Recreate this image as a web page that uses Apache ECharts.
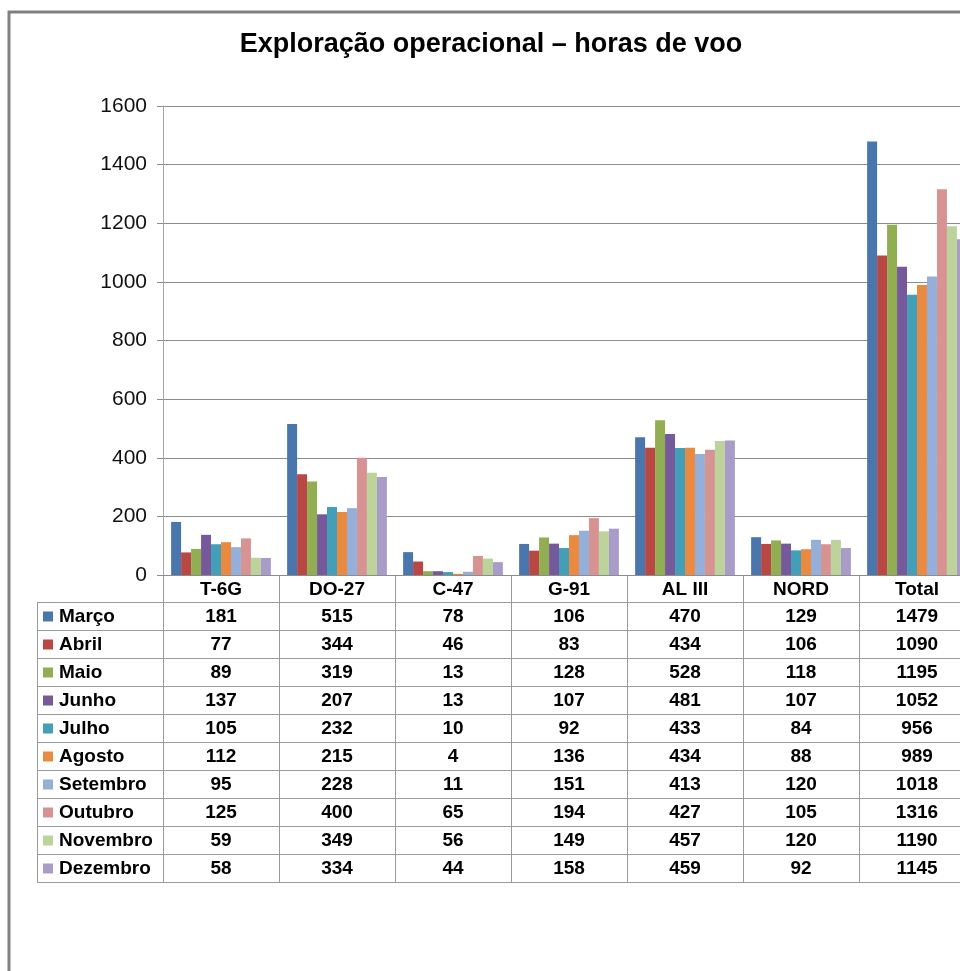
<!DOCTYPE html>
<html><head><meta charset="utf-8">
<script src="https://cdn.jsdelivr.net/npm/echarts@6/dist/echarts.min.js"></script>
<style>html,body{margin:0;padding:0;background:#fff;overflow:hidden}#c{width:960px;height:971px}</style>
</head><body><div id="c"></div>
<script>
const titleText = 'Exploração operacional – horas de voo';
const categories = ['T-6G', 'DO-27', 'C-47', 'G-91', 'AL III', 'NORD', 'Total'];
const months = ['Março', 'Abril', 'Maio', 'Junho', 'Julho', 'Agosto', 'Setembro', 'Outubro', 'Novembro', 'Dezembro'];
const marco    = [181, 515, 78, 106, 470, 129, 1479];
const abril    = [77, 344, 46, 83, 434, 106, 1090];
const maio     = [89, 319, 13, 128, 528, 118, 1195];
const junho    = [137, 207, 13, 107, 481, 107, 1052];
const julho    = [105, 232, 10, 92, 433, 84, 956];
const agosto   = [112, 215, 4, 136, 434, 88, 989];
const setembro = [95, 228, 11, 151, 413, 120, 1018];
const outubro  = [125, 400, 65, 194, 427, 105, 1316];
const novembro = [59, 349, 56, 149, 457, 120, 1190];
const dezembro = [58, 334, 44, 158, 459, 92, 1145];
const seriesValues = [marco, abril, maio, junho, julho, agosto, setembro, outubro, novembro, dezembro];
const colors = ['#4A76AE', '#B94845', '#91AF52', '#76599A', '#439FB8', '#E98A40', '#93AFDA', '#D69391', '#BCD39B', '#A99CC8'];
const yMin = 0, yMax = 1600, yInterval = 200;

const FONT = '"Liberation Sans", Arial, sans-serif';
const chart = echarts.init(document.getElementById('c'), null, {renderer: 'canvas'});

const series = months.map((m, i) => ({
  name: m,
  type: 'bar',
  data: seriesValues[i],
  itemStyle: {color: colors[i]},
  barGap: '0%',
  barCategoryGap: '14%',
  animation: false
}));

const GRID = {left: 163, top: 106, width: 812, height: 469, outerBoundsMode: 'none', containLabel: false};
chart.setOption({
  animation: false,
  backgroundColor: '#fff',
  grid: GRID,
  xAxis: {
    type: 'category',
    data: categories,
    axisLine: {show: true, lineStyle: {color: '#8c8c8c', width: 1}},
    axisTick: {show: false},
    axisLabel: {fontFamily: FONT, fontWeight: 'bold', fontSize: 19, color: '#000', margin: 5, interval: 0}
  },
  yAxis: {
    type: 'value',
    min: yMin, max: yMax, interval: yInterval,
    axisLine: {show: true, lineStyle: {color: '#a6a6a6', width: 1}},
    axisTick: {show: true, length: 6, lineStyle: {color: '#8c8c8c'}},
    axisLabel: {fontFamily: FONT, fontSize: 21, color: '#111', margin: 16, formatter: v => String(v)},
    splitLine: {show: true, lineStyle: {color: '#8c8c8c', width: 1}}
  },
  series: series
});

// Build data table from the arrays
const tableTop = 575, headerH = 27, rowH = 28;
const firstRowTop = tableTop + headerH;
const tableBottom = firstRowTop + rowH * months.length;
const legendLeft = 37;
const lineColor = '#9a9a9a';
const g = [];
// outer frame
g.push({type: 'rect', z: 0, shape: {x: 9, y: 12, width: 1100, height: 1100},
  style: {fill: null, stroke: '#808080', lineWidth: 3}});
// title
g.push({type: 'text', x: 491, y: 45, style: {text: titleText, font: 'bold 27px ' + FONT,
  fill: '#000', textAlign: 'center', textVerticalAlign: 'middle'}});

const centers = categories.map((c, i) => chart.convertToPixel({xAxisIndex: 0}, i));
const band = centers.length > 1 ? centers[1] - centers[0] : GRID.width;
// vertical lines
g.push({type: 'line', shape: {x1: GRID.left + 0.5, y1: tableTop, x2: GRID.left + 0.5, y2: tableBottom}, style: {stroke: lineColor, lineWidth: 1}});
g.push({type: 'line', shape: {x1: legendLeft + 0.5, y1: firstRowTop, x2: legendLeft + 0.5, y2: tableBottom}, style: {stroke: lineColor, lineWidth: 1}});
centers.forEach((cx, i) => {
  const bx = Math.round(cx + band / 2) + 0.5;
  g.push({type: 'line', shape: {x1: bx, y1: tableTop, x2: bx, y2: tableBottom}, style: {stroke: lineColor, lineWidth: 1}});
});
// horizontal lines
for (let r = 0; r <= months.length; r++) {
  const y = firstRowTop + r * rowH + 0.5;
  g.push({type: 'line', shape: {x1: legendLeft, y1: y, x2: 1100, y2: y}, style: {stroke: lineColor, lineWidth: 1}});
}
// rows
months.forEach((m, r) => {
  const cy = firstRowTop + r * rowH + rowH / 2 + 0.5;
  g.push({type: 'rect', shape: {x: 43, y: cy - 5, width: 10, height: 10}, style: {fill: colors[r]}});
  g.push({type: 'text', x: 59, y: cy, style: {text: m, font: 'bold 19px ' + FONT, fill: '#000',
    textAlign: 'left', textVerticalAlign: 'middle'}});
  seriesValues[r].forEach((v, c) => {
    g.push({type: 'text', x: centers[c], y: cy, style: {text: String(v), font: 'bold 19px ' + FONT,
      fill: '#000', textAlign: 'center', textVerticalAlign: 'middle'}});
  });
});
chart.setOption({graphic: {elements: g}});
</script>
</body></html>
